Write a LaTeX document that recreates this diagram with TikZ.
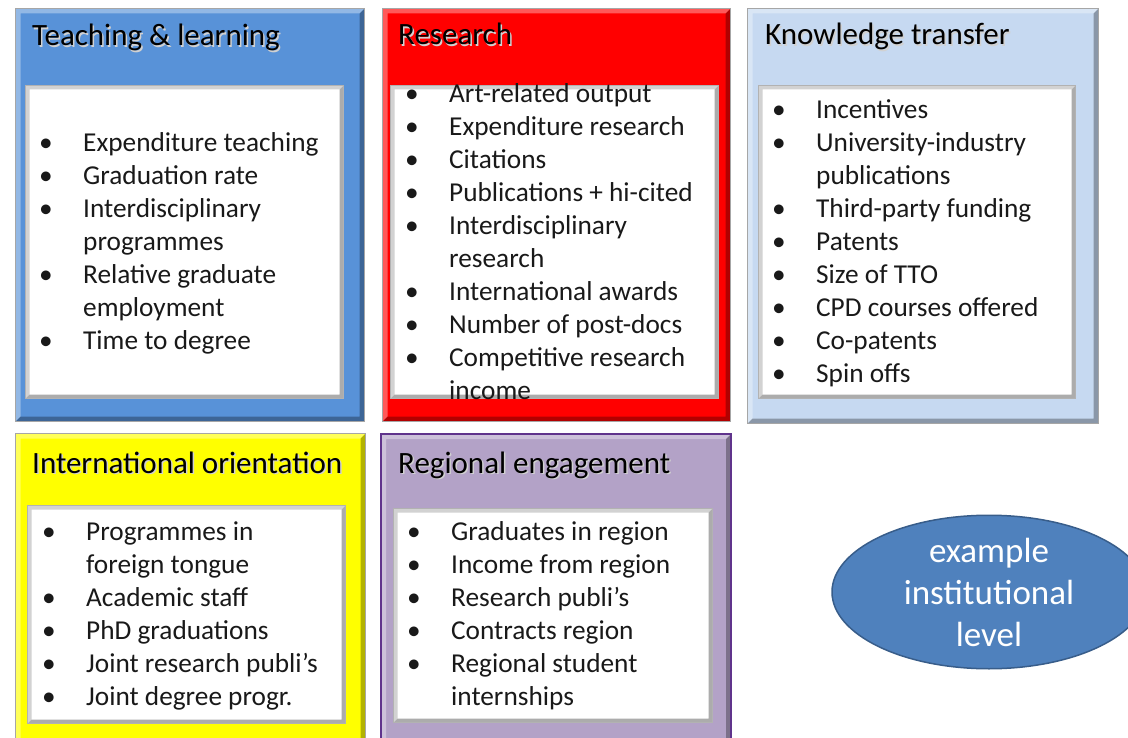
\documentclass[tikz,border=0pt]{standalone}
\usepackage{fontspec}
\setmainfont{Carlito}
\usetikzlibrary{shapes.geometric}

\definecolor{tlblue}{RGB}{88,146,216}
\definecolor{resred}{RGB}{255,0,0}
\definecolor{ktblue}{RGB}{198,217,241}
\definecolor{intyellow}{RGB}{255,255,0}
\definecolor{regpurple}{RGB}{179,162,199}
\definecolor{regborder}{RGB}{96,52,140}
\definecolor{ellfill}{RGB}{79,129,189}
\definecolor{elldraw}{RGB}{56,93,138}

\newcommand\bitem{\makebox[44pt][l]{\textbullet}}
\newcommand\bcont{\hspace*{44pt}}
\newcommand\shadowed[1]{\makebox[0pt][l]{\hspace{1.5pt}\raisebox{-1.5pt}{\color{black!18}#1}}#1}

\begin{document}
\begin{tikzpicture}[x=1pt,y=-1pt,
   bevel/.style n args={3}{path picture={
      \fill[#2] (path picture bounding box.north west) -- (path picture bounding box.north east)
        -- ([shift={(-#1,-#1)}]path picture bounding box.north east)
        -- ([shift={(#1,-#1)}]path picture bounding box.north west)
        -- ([shift={(#1,#1)}]path picture bounding box.south west)
        -- (path picture bounding box.south west) -- cycle;
      \fill[#3] (path picture bounding box.south east) -- (path picture bounding box.south west)
        -- ([shift={(#1,#1)}]path picture bounding box.south west)
        -- ([shift={(-#1,#1)}]path picture bounding box.south east)
        -- ([shift={(-#1,-#1)}]path picture bounding box.north east)
        -- (path picture bounding box.north east) -- cycle;}},
   panel/.style={rectangle,anchor=north west,inner sep=0pt,fill=#1,draw=gray!70,line width=1pt,
      bevel={5pt}{white,fill opacity=.35}{black,fill opacity=.3}},
   sheet/.style={rectangle,anchor=north west,inner sep=0pt,fill=white,draw=gray!60,line width=1pt,
      bevel={4pt}{gray!35}{gray!65}},
   heading/.style={anchor=base west,inner sep=0pt,font=\fontsize{31}{36}\selectfont,text=black},
   items/.style={anchor=north west,inner sep=0pt,align=left,font=\fontsize{27.3}{33}\selectfont,text=black!90},
   level/.style={ellipse,fill=ellfill,draw=elldraw,line width=1.5pt,minimum width=314pt,minimum height=150pt,
      inner sep=0pt,align=center,text=white,font=\fontsize{35}{42}\selectfont}
  ]
  \useasboundingbox (0,0) rectangle (1128,738);

  % top row
  \node[panel=tlblue,minimum width=349pt,minimum height=413pt] (tl) at (15,8) {};
  \node[sheet,minimum width=318pt,minimum height=313pt] (tlsheet) at (25,85) {};
  \node[heading] (tltitle) at (32,46) {\shadowed{Teaching \& learning}};
  \node[items] (tllist) at (39,128) {\bitem\strut Expenditure teaching\\
    \bitem Graduation rate\\
    \bitem Interdisciplinary\\
    \bcont programmes\\
    \bitem Relative graduate\\
    \bcont employment\\
    \bitem Time to degree};

  \node[panel=resred,minimum width=348pt,minimum height=413pt] (res) at (382,8) {};
  \node[sheet,minimum width=328pt,minimum height=313pt] (ressheet) at (390,85) {};
  \node[heading] (restitle) at (398,45) {\shadowed{Research}};
  \node[items] (reslist) at (405,79) {\bitem\strut Art-related output\\
    \bitem Expenditure research\\
    \bitem Citations\\
    \bitem Publications + hi-cited\\
    \bitem Interdisciplinary\\
    \bcont research\\
    \bitem International awards\\
    \bitem Number of post-docs\\
    \bitem Competitive research\\
    \bcont income};

  \node[panel=ktblue,minimum width=351pt,minimum height=415pt] (kt) at (747,8) {};
  \node[sheet,minimum width=317pt,minimum height=313pt] (ktsheet) at (758,85) {};
  \node[heading] (kttitle) at (765,45) {\shadowed{Knowledge transfer}};
  \node[items] (ktlist) at (772,95) {\bitem\strut Incentives\\
    \bitem University-industry\\
    \bcont publications\\
    \bitem Third-party funding\\
    \bitem Patents\\
    \bitem Size of TTO\\
    \bitem CPD courses offered\\
    \bitem Co-patents\\
    \bitem Spin offs};

  % bottom row
  \node[panel=intyellow,minimum width=350pt,minimum height=320pt] (io) at (15,433) {};
  \node[sheet,minimum width=318pt,minimum height=218pt] (iosheet) at (27,505) {};
  \node[heading] (iotitle) at (32,473) {\shadowed{International orientation}};
  \node[items] (iolist) at (42,517) {\bitem\strut Programmes in\\
    \bcont foreign tongue\\
    \bitem Academic staff\\
    \bitem PhD graduations\\
    \bitem Joint research publi’s\\
    \bitem Joint degree progr.};

  \node[panel=regpurple,draw=regborder,line width=2pt,minimum width=350pt,minimum height=320pt] (reg) at (380,433) {};
  \node[sheet,minimum width=319pt,minimum height=214pt] (regsheet) at (393,508) {};
  \node[heading] (regtitle) at (398,473) {\shadowed{Regional engagement}};
  \node[items] (reglist) at (407,517) {\bitem\strut Graduates in region\\
    \bitem Income from region\\
    \bitem Research publi’s\\
    \bitem Contracts region\\
    \bitem Regional student\\
    \bcont internships};

  \node[level] (inst) at (989,592) {example\\institutional\\level};
\end{tikzpicture}
\end{document}
